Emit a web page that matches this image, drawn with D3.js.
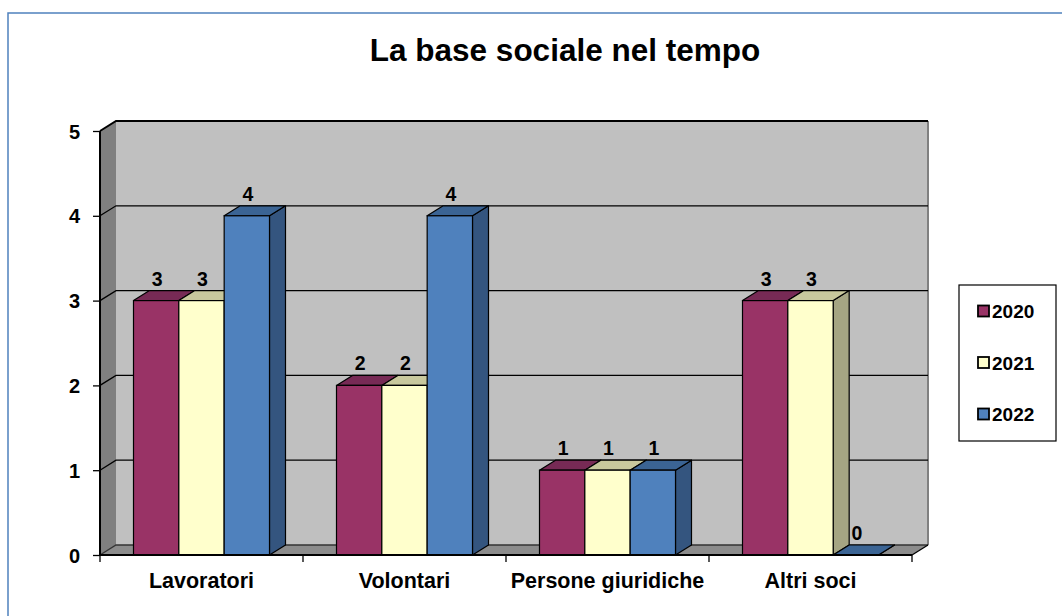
<!DOCTYPE html>
<html>
<head>
<meta charset="utf-8">
<script src="https://cdn.jsdelivr.net/npm/d3@7"></script>
<style>
  html, body { margin: 0; padding: 0; background: #fff; }
  svg { display: block; font-family: "Liberation Sans", Arial, sans-serif; }
</style>
</head>
<body>
<svg id="chart" width="1062" height="616"></svg>
<script>
// ---- data ----
const categories = ["Lavoratori", "Volontari", "Persone giuridiche", "Altri soci"];
const seriesNames = ["2020", "2021", "2022"];
const values2020 = [3, 2, 1, 3];
const values2021 = [3, 2, 1, 3];
const values2022 = [4, 4, 1, 0];
const yTicks = [0, 1, 2, 3, 4, 5];
const title = "La base sociale nel tempo";

const seriesValues = [values2020, values2021, values2022];
const frontColors = ["#993366", "#FFFFCC", "#4F81BD"];
const topColors   = ["#772A55", "#C8C89D", "#3B6494"];
const sideColors  = ["#6A2347", "#A5A583", "#34557F"];

const svg = d3.select("#chart");

// outer frame
svg.append("rect").attr("x", 8).attr("y", 13).attr("width", 1070).attr("height", 620)
  .attr("fill", "none").attr("stroke", "#4F81BD").attr("stroke-width", 1.5);

// title
svg.append("text").attr("x", 565).attr("y", 61).attr("text-anchor", "middle")
  .attr("font-size", 31.5).attr("font-weight", "bold").attr("fill", "#000").text(title);

// geometry
const x0 = 100, x1 = 912, dx = 16, dy = -10;
const x = d3.scaleBand().domain(categories).range([x0, x1]);
const y = d3.scaleLinear().domain([0, 5]).range([555, 131]);
const inner = d3.scaleBand().domain(seriesNames).range([0, 136]);
const innerOffset = (x.bandwidth() - 136) / 2;

const g = svg.append("g");

// back wall
g.append("rect").attr("x", x0 + dx).attr("y", y(5) + dy)
  .attr("width", x1 - x0).attr("height", y(0) - y(5))
  .attr("fill", "#C0C0C0");
// right edge of back wall
g.append("line").attr("x1", x1 + dx).attr("x2", x1 + dx).attr("y1", y(5) + dy).attr("y2", y(0) + dy)
  .attr("stroke", "#808080").attr("stroke-width", 2);
// side wall
g.append("path").attr("d", `M${x0},${y(0)}L${x0},${y(5)}L${x0+dx},${y(5)+dy}L${x0+dx},${y(0)+dy}Z`)
  .attr("fill", "#808080");
// floor
g.append("path").attr("d", `M${x0},${y(0)}L${x0+dx},${y(0)+dy}L${x1+dx},${y(0)+dy}L${x1},${y(0)}Z`)
  .attr("fill", "#8C8C8C");

// gridlines
yTicks.forEach(t => {
  g.append("path")
    .attr("d", `M${x0},${y(t)}L${x0+dx},${y(t)+dy}L${x1+dx},${y(t)+dy}`)
    .attr("fill", "none").attr("stroke", t === 0 ? "#333" : "#000").attr("stroke-width", t === 5 ? 2 : 1.3);
});
// floor right edge
g.append("line").attr("x1", x1).attr("y1", y(0)).attr("x2", x1 + dx).attr("y2", y(0) + dy)
  .attr("stroke", "#000").attr("stroke-width", 1.3);

// bars
categories.forEach((c, ci) => {
  seriesNames.forEach((s, si) => {
    const v = seriesValues[si][ci];
    const bx = x(c) + innerOffset + inner(s);
    const bw = inner.bandwidth();
    const top = y(v), bottom = y(0);
    const bg = g.append("g");
    // side face
    bg.append("path").attr("d", `M${bx+bw},${bottom}L${bx+bw},${top}L${bx+bw+dx},${top+dy}L${bx+bw+dx},${bottom+dy}Z`)
      .attr("fill", sideColors[si]).attr("stroke", "#000").attr("stroke-width", 1.2).attr("stroke-linejoin", "round");
    // top face
    bg.append("path").attr("d", `M${bx},${top}L${bx+dx},${top+dy}L${bx+bw+dx},${top+dy}L${bx+bw},${top}Z`)
      .attr("fill", topColors[si]).attr("stroke", "#000").attr("stroke-width", 1.2).attr("stroke-linejoin", "round");
    // front face
    if (v > 0) {
      bg.append("rect").attr("x", bx).attr("y", top).attr("width", bw).attr("height", bottom - top)
        .attr("fill", frontColors[si]).attr("stroke", "#000").attr("stroke-width", 1.2);
    }
  });
});

// labels above bars
categories.forEach((c, ci) => {
  seriesNames.forEach((s, si) => {
    const v = seriesValues[si][ci];
    const bx = x(c) + innerOffset + inner(s);
    const bw = inner.bandwidth();
    svg.append("text").attr("x", bx + bw / 2 + 1).attr("y", y(v) + dy - 5)
      .attr("text-anchor", "middle").attr("font-size", 19.5).attr("font-weight", "bold")
      .text(v);
  });
});

// x axis front line and ticks
svg.append("line").attr("x1", x0).attr("x2", x1).attr("y1", y(0)).attr("y2", y(0))
  .attr("stroke", "#000").attr("stroke-width", 2);
const xTickPos = categories.map(c => x(c)).concat([x1]);
xTickPos.forEach(p => {
  svg.append("line").attr("x1", p).attr("x2", p).attr("y1", y(0)).attr("y2", y(0) + 7)
    .attr("stroke", "#000").attr("stroke-width", 1.3);
});
categories.forEach(c => {
  svg.append("text").attr("x", x(c) + x.bandwidth() / 2).attr("y", 588)
    .attr("text-anchor", "middle").attr("font-size", 21.5).attr("font-weight", "bold").text(c);
});

// y axis
const yAxis = d3.axisLeft(y).tickValues(yTicks).tickSize(7).tickPadding(13).tickFormat(d3.format("d"));
const ya = svg.append("g").attr("transform", `translate(${x0},0)`).call(yAxis);
ya.select(".domain").attr("stroke", "#000").attr("stroke-width", 2).attr("d", `M0,${y(5)}V${y(0)}`);
ya.selectAll(".tick line").attr("stroke", "#000").attr("stroke-width", 1.3);
ya.selectAll(".tick text").attr("font-size", 20).attr("font-weight", "bold").attr("fill", "#000")
  .attr("font-family", "Liberation Sans, Arial, sans-serif").attr("dy", "0.35em");

// legend
const lg = svg.append("g");
lg.append("rect").attr("x", 959).attr("y", 285).attr("width", 97).attr("height", 156)
  .attr("fill", "#fff").attr("stroke", "#000").attr("stroke-width", 1.2);
seriesNames.forEach((s, i) => {
  const cy = 311 + i * 51.5;
  lg.append("rect").attr("x", 978).attr("y", cy - 5.5).attr("width", 11).attr("height", 11)
    .attr("fill", frontColors[i]).attr("stroke", "#000").attr("stroke-width", 1.8);
  lg.append("text").attr("x", 992).attr("y", cy + 7).attr("font-size", 19).attr("font-weight", "bold").text(s);
});
</script>
</body>
</html>
